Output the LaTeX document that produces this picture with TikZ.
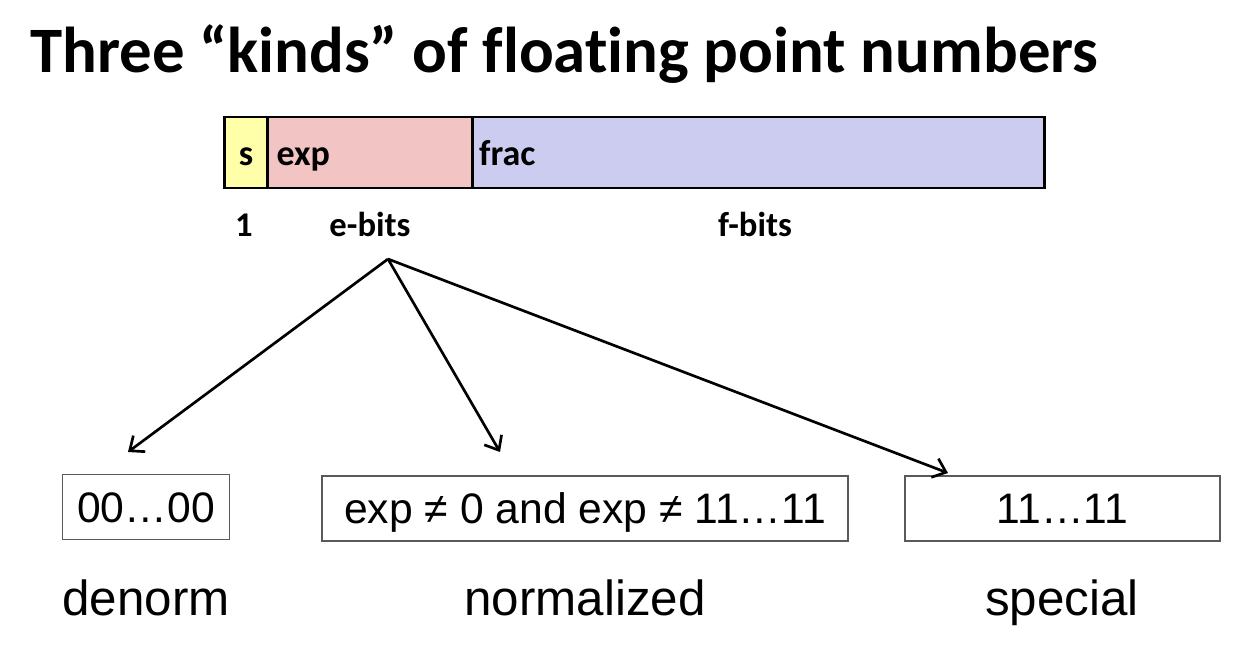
\documentclass[tikz,border=0pt]{standalone}
\usepackage{fontspec}
\setmainfont{Liberation Sans}
\newfontfamily\calibri[Ligatures=NoCommon]{Carlito}
\usetikzlibrary{arrows.meta}
\definecolor{sy}{RGB}{255,255,170}
\definecolor{ep}{RGB}{242,196,196}
\definecolor{fl}{RGB}{204,204,240}
\definecolor{bx}{RGB}{90,90,90}
\begin{document}
\begin{tikzpicture}[x=0.75pt,y=-0.75pt,
  seg/.style={draw=black, line width=2.2pt, minimum height=53.25pt, inner xsep=0pt, inner ysep=0pt, text height=23pt, text depth=4.2pt, anchor=west, font=\calibri\bfseries\fontsize{27}{32}\selectfont},
  bitlab/.style={anchor=base, font=\calibri\bfseries\fontsize{26}{30}\selectfont},
  valbox/.style={draw=bx, line width=1.1pt, minimum height=48.75pt, inner sep=0pt, text height=23pt, text depth=0pt, font=\fontsize{32}{38}\selectfont},
  kind/.style={anchor=base, font=\fontsize{37}{44}\selectfont},
  arr/.style={line width=2pt, -{Straight Barb[length=9pt,width=15pt,line width=2pt]}}]
\path[use as bounding box] (0,0) rectangle (1243,662);
\node[anchor=base west, inner sep=0pt, font=\calibri\bfseries\fontsize{48.6}{56}\selectfont] (title) at (30,72) {Three “kinds” of floating point numbers};
% bar
\node[seg, fill=sy, minimum width=32.25pt] (s) at (223,152.5) {s};
\node[seg, fill=ep, minimum width=153.75pt, text width=150pt, align=left] (exp) at (266,152.5) {\hspace*{5pt}exp};
\node[seg, fill=fl, minimum width=429pt, text width=425pt, align=left] (frac) at (471,152.5) {\hspace*{3pt}frac};
% bit labels
\node[bitlab] (one) at (244,236) {1};
\node[bitlab] (ebits) at (370,236) {e-bits};
\node[bitlab] (fbits) at (755,236) {f-bits};
% value boxes
\node[valbox, minimum width=125.25pt] (den) at (146,507) {00…00};
\node[valbox, minimum width=394.5pt] (nor) at (585,508.5) {exp ≠ 0 and exp ≠ 11…11};
\node[valbox, minimum width=236.25pt] (spe) at (1062.5,508.5) {11…11};
% kind labels
\node[kind] (denl) at (146,615) {denorm};
\node[kind] (norl) at (585,615) {normalized};
\node[kind] (spel) at (1062,615) {special};
% arrows
\coordinate (src) at (388,259);
\coordinate (e1) at (128,452);
\coordinate (e2) at (500,452);
\coordinate (e3) at (948,473);
\draw[arr] (src) -- (e1);
\draw[arr] (src) -- (e2);
\draw[arr] (src) -- (e3);
\end{tikzpicture}
\end{document}
